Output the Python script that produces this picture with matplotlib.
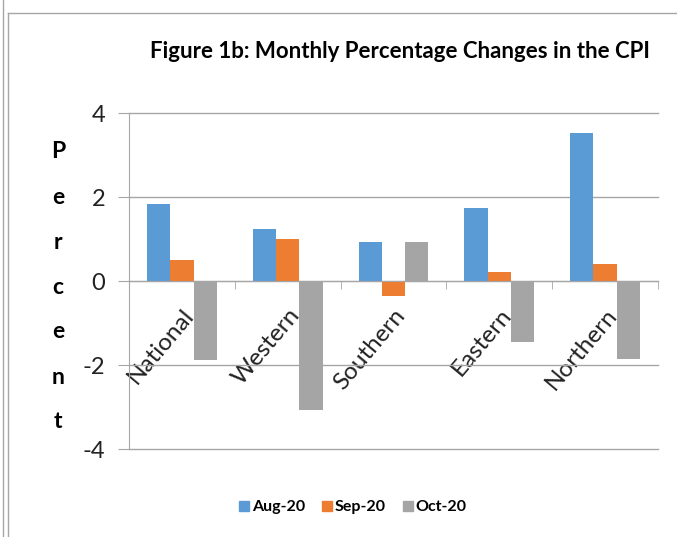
import numpy as np
import matplotlib
matplotlib.use("Agg")
import matplotlib.pyplot as plt
from matplotlib.lines import Line2D

regions = ["National", "Western", "Southern", "Eastern", "Northern"]
months = ["Aug-20", "Sep-20", "Oct-20"]
aug = [1.84, 1.23, 0.92, 1.73, 3.53]
sep = [0.49, 0.99, -0.35, 0.22, 0.41]
oct_ = [-1.88, -3.07, 0.92, -1.46, -1.85]
yticks = [-4, -2, 0, 2, 4]
colors = ["#5B9BD5", "#ED7D31", "#A5A5A5"]

plt.rcParams['font.family'] = ["Lato", "DejaVu Sans"]

fig = plt.figure(figsize=(6.77, 5.37), dpi=100)
ax = fig.add_axes([129 / 677, 1 - 449 / 537, 529 / 677, 336 / 537])

x = np.arange(len(regions))
w = 0.22
for i, (vals, lab) in enumerate(zip([aug, sep, oct_], months)):
    ax.bar(x + (i - 1) * w, vals, w, color=colors[i], label=lab, zorder=3)

ax.set_xlim(-0.5, len(regions) - 0.5)
ax.set_ylim(-4, 4)
ax.set_yticks(yticks)
ax.set_yticklabels([str(t) for t in yticks], fontsize=17, color="#222222")
ax.tick_params(axis='y', length=8, color="#A6A6A6", pad=9)
ax.grid(axis='y', color="#A6A6A6", lw=1, zorder=0)
for gl in ax.get_ygridlines():
    gl.set_clip_on(False)

for s in ["top", "right"]:
    ax.spines[s].set_visible(False)
ax.spines['left'].set_color("#A6A6A6")
ax.spines['bottom'].set_color("#A6A6A6")
ax.spines['bottom'].set_position(('data', 0))
ax.spines['bottom'].set_zorder(4)

ax.set_xticks(x)
ax.set_xticklabels(regions, rotation=50, ha='right', rotation_mode='anchor',
                   fontsize=17.5, color="#222222")
ax.tick_params(axis='x', which='major', length=0, pad=17)
ax.set_xticks(np.arange(len(regions) + 1) - 0.5, minor=True)
ax.tick_params(axis='x', which='minor', length=6, color="#A6A6A6", direction='out')

# vertical "Percent" label, one letter per line
for k, ch in enumerate("Percent"):
    fig.text(58 / 677, 1 - (152 + 45 * k) / 537, ch, ha='center', va='center',
             fontsize=16.5, fontweight='bold')

title = fig.text(150 / 677, 1 - 58 / 537, "Figure 1b: Monthly Percentage Changes in the CPI",
                 ha='left', va='baseline', fontsize=16, fontweight='bold')
# shrink the title until it fits inside the figure width
r = fig.canvas.get_renderer()
while title.get_window_extent(r).x1 > 675:
    title.set_fontsize(title.get_fontsize() - 0.1)

handles = [Line2D([], [], marker='s', ls='', color=c, markersize=6.5) for c in colors]
fig.legend(handles, months, loc='center', bbox_to_anchor=(352 / 677, 1 - 507 / 537),
           ncol=3, frameon=False, prop={'weight': 'bold', 'size': 11.5},
           handletextpad=0.05, columnspacing=1.0, handlelength=0.8)

# figure frame lines
fig.add_artist(Line2D([3 / 677, 3 / 677], [0, 1], color="#A6A6A6", lw=1))
fig.add_artist(Line2D([8 / 677, 8 / 677], [0, 1 - 13 / 537], color="#A6A6A6", lw=1))
fig.add_artist(Line2D([8 / 677, 1], [1 - 13 / 537, 1 - 13 / 537], color="#A6A6A6", lw=1))

fig.savefig("out.png", dpi=100)
